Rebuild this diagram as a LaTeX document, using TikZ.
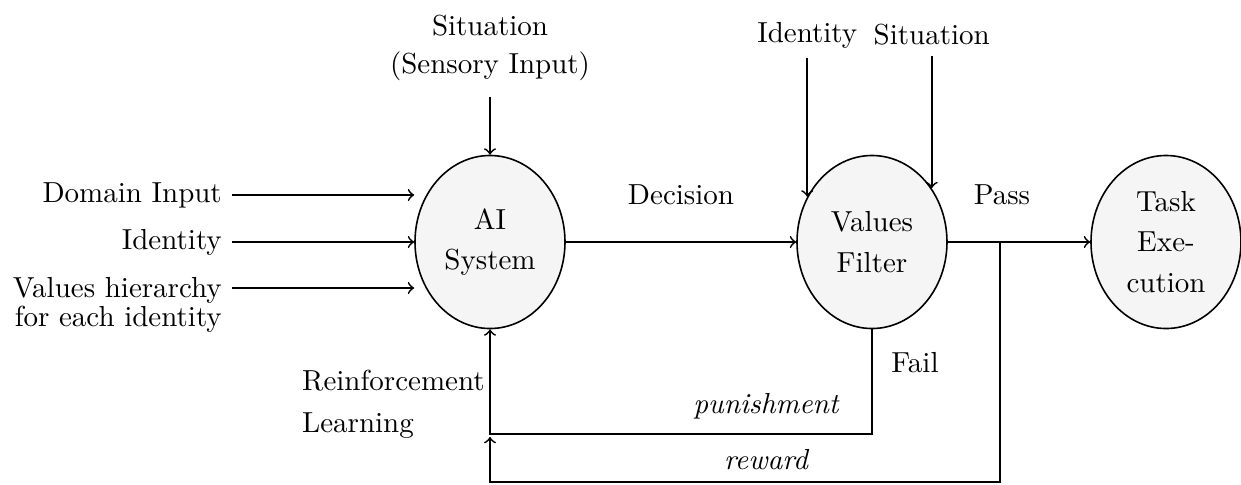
\documentclass[tikz,border=0pt]{standalone}
\usetikzlibrary{shapes.geometric}
\begin{document}
\begin{tikzpicture}[x=0.345pt,y=-0.345pt,
  blob/.style={ellipse,draw,fill=gray!8,line width=0.55pt,
    minimum width=51.75pt,minimum height=59.7pt,inner sep=1pt,align=center},
  lbl/.style={inner sep=3.33pt},
  flow/.style={->,line width=0.6pt}]
\useasboundingbox (0,0) rectangle (1241,484);

% main processing stages
\node[blob] (ai) at (490,242) {AI\\[2pt]System};
\node[blob] (vf) at (872,242) {Values\\[2pt]Filter};
\node[blob] (te) at (1166,242) {Task\\[2pt]Exe-\\[2pt]cution};

% inputs to the AI system
\node[lbl,align=center] (sit) at (ai |- 0,48) {Situation\\[1pt](Sensory Input)};
\node[lbl,anchor=east] (dom) at (232,195) {Domain Input};
\node[lbl,anchor=east] (idl) at (232,242) {Identity};
\node[lbl,anchor=east,align=right] (vh) at (232,305) {Values hierarchy\\[-2pt]for each identity};
\coordinate (vha) at (232,288);

% inputs to the values filter
\node[lbl] (idt) at (vf.145 |- 0,35) {Identity};
\node[lbl] (sitr) at (vf.42 |- 0,35) {Situation};

% edge labels
\node[lbl] (dec) at (681,195) {Decision};
\node[lbl] (pass) at (1002,195) {Pass};
\node[lbl] (fail) at (915,363) {Fail};
\node[lbl] (pun) at (766,406) {\itshape punishment};
\node[lbl] (rew) at (766,460) {\itshape reward};
\node[lbl,anchor=west,align=left] (rl) at (292,404) {Reinforcement\\[2.5pt]Learning};

% routing points of the feedback loops
\coordinate (j) at (1000,0 |- vf.east);
\coordinate (pj) at (ai.south |- 0,434);
\coordinate (rb) at (ai.south |- 0,482);

% connectors
\draw[flow,shorten <=2pt] (sit.south) -- (ai.north);
\draw[flow] (dom.east) -- (dom.east -| ai.west);
\draw[flow] (idl.east) -- (ai.west);
\draw[flow] (vha) -- (vha -| ai.west);
\draw[flow] (ai.east) -- (vf.west);
\draw[flow] (idt.south) -- (vf.145);
\draw[flow] (sitr.south) -- (vf.42);
\draw[flow] (vf.east) -- (te.west);
\draw[flow] (vf.south) |- (pj) -- (ai.south);
\draw[flow,shorten >=1pt] (j) |- (rb) -- (pj);
\end{tikzpicture}
\end{document}
